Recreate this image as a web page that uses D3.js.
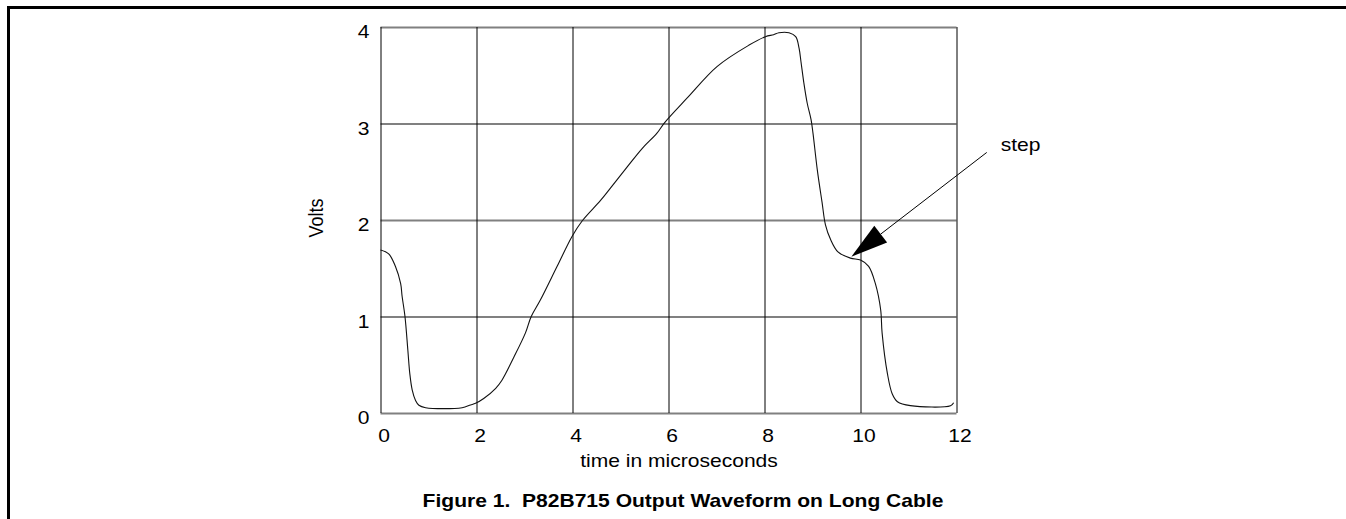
<!DOCTYPE html>
<html>
<head>
<meta charset="utf-8">
<script src="https://cdn.jsdelivr.net/npm/d3@7"></script>
<style>
  html, body { margin: 0; padding: 0; background: #fff; }
  svg { display: block; font-family: "Liberation Sans", Arial, sans-serif; }
</style>
</head>
<body>
<svg id="chart" width="1346" height="519"></svg>
<script>
// waveform (time in us, volts)
const timeUs = [0, 0.17, 0.31, 0.42, 0.45, 0.51, 0.57, 0.61, 0.66, 0.73, 0.80, 0.94,
  1.70, 1.875, 1.98, 2.15, 2.40, 2.53, 2.78, 3.02, 3.14, 3.33, 3.68, 3.99, 4.20,
  4.58, 4.79, 5.14, 5.45, 5.76, 5.92, 6.40, 7.01, 7.67, 8.02, 8.19, 8.30, 8.51,
  8.65, 8.72, 8.76, 8.82, 8.89, 8.97, 9.01, 9.10, 9.20, 9.27, 9.375, 9.53, 9.79,
  10.0, 10.17, 10.31, 10.42, 10.45, 10.56, 10.66, 10.77, 11.04, 11.875, 11.94];
const volts = [1.69, 1.65, 1.52, 1.34, 1.21, 1.0, 0.65, 0.41, 0.24, 0.13, 0.08, 0.055,
  0.055, 0.083, 0.10, 0.15, 0.256, 0.34, 0.58, 0.83, 1.0, 1.17, 1.52, 1.83, 1.99,
  2.20, 2.33, 2.55, 2.74, 2.90, 3.01, 3.27, 3.59, 3.81, 3.90, 3.92, 3.94, 3.94,
  3.90, 3.78, 3.64, 3.42, 3.21, 3.04, 2.90, 2.52, 2.18, 1.95, 1.80, 1.67, 1.605,
  1.585, 1.52, 1.34, 1.07, 0.83, 0.41, 0.20, 0.117, 0.076, 0.076, 0.107];

const xTicks = [0, 2, 4, 6, 8, 10, 12];
const yTicks = [0, 1, 2, 3, 4];

const xLabel = 'time in microseconds';
const yLabel = 'Volts';
const caption = 'Figure 1.  P82B715 Output Waveform on Long Cable';

// "step" callout, in data units: tail, tip, and label anchor
const stepNote = { text: 'step', tail: [12.63, 2.70], tip: [9.81, 1.62], label: [12.92, 2.72] };

const stretch = 1.17; // the scan is wider than it is tall

const svg = d3.select('#chart');

// page frame (top and left rules)
svg.append('path')
  .attr('d', 'M8.5,519V7.5H1346')
  .attr('fill', 'none')
  .attr('stroke', '#000')
  .attr('stroke-width', 3);

const xScale = d3.scaleLinear().domain([0, 12]).range([380.5, 956.5]);
const yScale = d3.scaleLinear().domain([0, 4]).range([413, 27]);

// horizontal grid + volt labels
svg.append('g')
  .attr('transform', `translate(${xScale(0)},0)`)
  .call(d3.axisLeft(yScale).tickValues(yTicks).tickSize(-(xScale(12) - xScale(0))).tickFormat(d3.format('d')))
  .call(g => g.select('.domain').remove())
  .call(g => g.selectAll('.tick line').attr('stroke', '#808080').attr('stroke-width', 2))
  .call(g => g.selectAll('.tick text')
    .attr('x', null).attr('dy', null).attr('y', null)
    .attr('text-anchor', 'end')
    .attr('font-size', 18)
    .attr('fill', '#000')
    .attr('font-family', null)
    .attr('transform', `translate(-11,10.5) scale(${stretch},1)`));

// vertical grid + time labels
svg.append('g')
  .attr('transform', `translate(0,${yScale(0)})`)
  .call(d3.axisBottom(xScale).tickValues(xTicks).tickSize(-(yScale(0) - yScale(4))).tickFormat(d3.format('d')))
  .call(g => g.select('.domain').remove())
  .call(g => g.selectAll('.tick line').attr('stroke', '#000').attr('stroke-width', 1))
  .call(g => g.selectAll('.tick text')
    .attr('y', null).attr('dy', null)
    .attr('font-size', 18)
    .attr('fill', '#000')
    .attr('font-family', null)
    .attr('transform', `translate(3,29) scale(${stretch},1)`));

// waveform
const line = d3.line()
  .x((d, i) => xScale(timeUs[i]))
  .y(d => yScale(d))
  .curve(d3.curveCatmullRom.alpha(0.5));

svg.append('path')
  .datum(volts)
  .attr('d', line)
  .attr('fill', 'none')
  .attr('stroke', '#111')
  .attr('stroke-width', 1.1);

// callout arrow
const tail = [xScale(stepNote.tail[0]), yScale(stepNote.tail[1])];
const tip = [xScale(stepNote.tip[0]), yScale(stepNote.tip[1])];
const ang = Math.atan2(tail[1] - tip[1], tail[0] - tip[0]);
const headLen = 37, headHalf = 10.5;
const base = [tip[0] + headLen * Math.cos(ang), tip[1] + headLen * Math.sin(ang)];
const nx = -Math.sin(ang), ny = Math.cos(ang);

svg.append('line')
  .attr('x1', tail[0]).attr('y1', tail[1])
  .attr('x2', base[0]).attr('y2', base[1])
  .attr('stroke', '#000').attr('stroke-width', 1);

svg.append('path')
  .attr('d', d3.line()([
    tip,
    [base[0] + nx * headHalf, base[1] + ny * headHalf],
    [base[0] - nx * headHalf, base[1] - ny * headHalf]
  ]) + 'Z')
  .attr('fill', '#000');

svg.append('text')
  .attr('transform', `translate(${xScale(stepNote.label[0])},${yScale(stepNote.label[1])}) scale(${stretch},1)`)
  .attr('font-size', 18)
  .text(stepNote.text);

// axis titles and caption
svg.append('text')
  .attr('transform', `translate(679,467) scale(${stretch},1)`)
  .attr('text-anchor', 'middle')
  .attr('font-size', 18)
  .text(xLabel);

svg.append('text')
  .attr('transform', `translate(323,218) scale(${stretch},1) rotate(-90)`)
  .attr('text-anchor', 'middle')
  .attr('font-size', 18)
  .text(yLabel);

svg.append('text')
  .attr('transform', `translate(683,507) scale(${stretch},1)`)
  .attr('text-anchor', 'middle')
  .attr('font-size', 18)
  .attr('font-weight', 'bold')
  .style('white-space', 'pre')
  .text(caption);
</script>
</body>
</html>
